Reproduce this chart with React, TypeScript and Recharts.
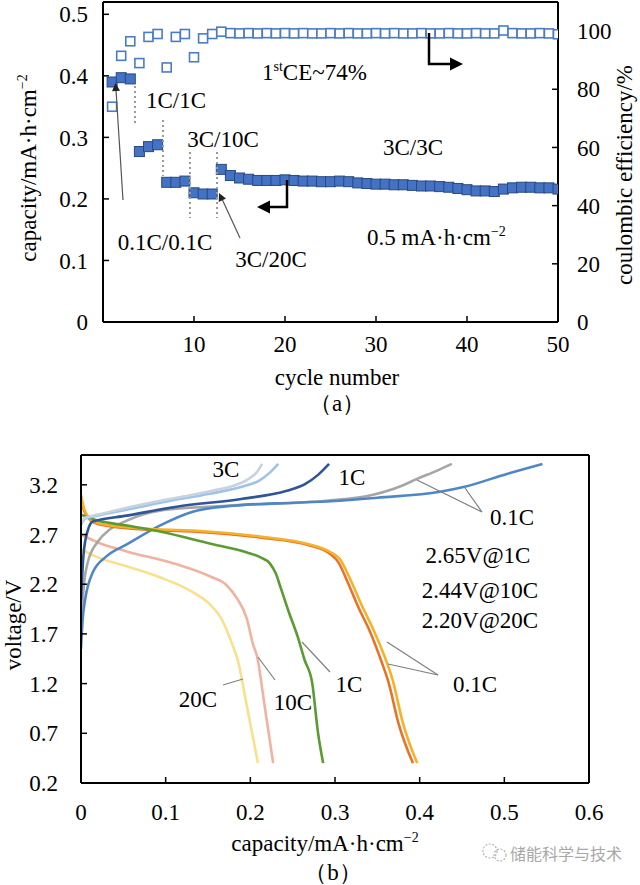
import React from 'react';
import { ComposedChart, LineChart, Line, XAxis, YAxis } from 'recharts';

// ---------- Panel (a) data ----------
const cycles = Array.from({ length: 50 }, (_, i) => i + 1);
const capacity = [
  0.39, 0.397, 0.395, 0.277, 0.285, 0.288, 0.227, 0.227, 0.229, 0.21,
  0.208, 0.208, 0.248, 0.238, 0.234, 0.232, 0.23, 0.23, 0.23, 0.231,
  0.23, 0.229, 0.229, 0.228, 0.228, 0.229, 0.228, 0.226, 0.225, 0.224,
  0.224, 0.223, 0.223, 0.222, 0.221, 0.221, 0.22, 0.219, 0.217, 0.215,
  0.213, 0.213, 0.212, 0.216, 0.218, 0.219, 0.219, 0.218, 0.218, 0.216,
];
const coulombicEfficiency = [
  74, 91.5, 96.5, 89, 98, 99, 87.5, 98, 99, 91,
  97.5, 99, 99.8, 99.3, 99.2, 99.3, 99.2, 99.3, 99.2, 99.3,
  99.2, 99.3, 99.2, 99.2, 99.3, 99.2, 99.3, 99.2, 99.2, 99.3,
  99.2, 99.3, 99.2, 99.2, 99.3, 99.2, 99.2, 99.3, 99.2, 99.2,
  99.3, 99.2, 99.2, 100.2, 99.3, 99.2, 99.2, 99.3, 99.2, 98.9,
];
const capTicks = [0, 0.1, 0.2, 0.3, 0.4, 0.5];
const ceTicks = [0, 20, 40, 60, 80, 100];
const cycleTicks = [10, 20, 30, 40, 50];

// ---------- Panel (b) data: [capacity, voltage] ----------
const charge3CA: [number, number][] = [
  [0, 2.82], [0.005, 2.87], [0.02, 2.9], [0.054, 2.97], [0.1, 3.05], [0.132, 3.1],
  [0.16, 3.15], [0.18, 3.19], [0.198, 3.26], [0.208, 3.33], [0.214, 3.41],
];
const charge3CB: [number, number][] = [
  [0, 2.8], [0.005, 2.86], [0.02, 2.89], [0.054, 2.95], [0.1, 3.03], [0.152, 3.11],
  [0.19, 3.18], [0.21, 3.24], [0.224, 3.33], [0.233, 3.41],
];
const charge1C: [number, number][] = [
  [0, 2.05], [0.003, 2.5], [0.008, 2.74], [0.014, 2.83], [0.054, 2.89], [0.113, 2.98],
  [0.191, 3.06], [0.243, 3.14], [0.265, 3.21], [0.28, 3.3], [0.293, 3.41],
];
const charge01CGray: [number, number][] = [
  [0, 1.7], [0.003, 2.15], [0.008, 2.42], [0.02, 2.63], [0.034, 2.75], [0.054, 2.84],
  [0.093, 2.94], [0.172, 2.99], [0.29, 3.04], [0.345, 3.1], [0.376, 3.18],
  [0.397, 3.26], [0.42, 3.34], [0.438, 3.41],
];
const charge01CBlue: [number, number][] = [
  [0, 1.55], [0.002, 1.85], [0.005, 2.05], [0.014, 2.32], [0.03, 2.48], [0.054, 2.6],
  [0.093, 2.79], [0.132, 2.93], [0.18, 2.99], [0.25, 3.02], [0.306, 3.04],
  [0.35, 3.07], [0.424, 3.13], [0.453, 3.18], [0.503, 3.31], [0.545, 3.41],
];
const discharge01CA: [number, number][] = [
  [0, 3.1], [0.004, 2.95], [0.012, 2.85], [0.022, 2.81], [0.073, 2.76], [0.132, 2.74],
  [0.211, 2.68], [0.27, 2.6], [0.295, 2.52], [0.306, 2.45], [0.318, 2.25],
  [0.332, 1.98], [0.345, 1.75], [0.36, 1.44], [0.368, 1.24], [0.38, 0.81], [0.397, 0.4],
];
const discharge01CB: [number, number][] = [
  [0, 3.05], [0.004, 2.93], [0.012, 2.84], [0.022, 2.8], [0.073, 2.75], [0.132, 2.73],
  [0.211, 2.67], [0.27, 2.59], [0.295, 2.5], [0.304, 2.42], [0.315, 2.22],
  [0.328, 1.96], [0.341, 1.73], [0.355, 1.42], [0.363, 1.22], [0.375, 0.8], [0.392, 0.4],
];
const discharge1C: [number, number][] = [
  [0, 2.9], [0.02, 2.84], [0.054, 2.79], [0.093, 2.73], [0.152, 2.61], [0.196, 2.52],
  [0.212, 2.47], [0.223, 2.41], [0.23, 2.31], [0.236, 2.16], [0.245, 1.93],
  [0.256, 1.67], [0.264, 1.44], [0.273, 1.21], [0.28, 0.7], [0.286, 0.4],
];
const discharge10C: [number, number][] = [
  [0, 2.7], [0.02, 2.62], [0.054, 2.53], [0.113, 2.4], [0.152, 2.28], [0.172, 2.19],
  [0.184, 2.06], [0.196, 1.85], [0.203, 1.6], [0.208, 1.47], [0.217, 0.97], [0.227, 0.4],
];
const discharge20C: [number, number][] = [
  [0, 2.55], [0.02, 2.47], [0.054, 2.38], [0.093, 2.27], [0.132, 2.12], [0.152, 2.0],
  [0.166, 1.85], [0.178, 1.61], [0.185, 1.44], [0.196, 0.97], [0.209, 0.4],
];
const voltTicks = [0.2, 0.7, 1.2, 1.7, 2.2, 2.7, 3.2];
const capBTicks = [0, 0.1, 0.2, 0.3, 0.4, 0.5, 0.6];

const FONT = "'Liberation Serif', 'Times New Roman', serif";
const FS = 23;

const toPts = (arr: [number, number][]) => arr.map(([x, y]) => ({ x, y }));

const curves = [
  { key: 'd20', pts: discharge20C, color: '#F9E08C' },
  { key: 'd10', pts: discharge10C, color: '#EFB3A0' },
  { key: 'c01g', pts: charge01CGray, color: '#A6A6A6' },
  { key: 'c01b', pts: charge01CBlue, color: '#4F87C6' },
  { key: 'd01b', pts: discharge01CB, color: '#E4732E' },
  { key: 'd01a', pts: discharge01CA, color: '#F6B12A' },
  { key: 'd1', pts: discharge1C, color: '#5A9C32' },
  { key: 'c1', pts: charge1C, color: '#2F5597' },
  { key: 'c3b', pts: charge3CB, color: '#9DC3E6' },
  { key: 'c3a', pts: charge3CA, color: '#C9D3DF' },
];

const FilledSquare = (p: any) => {
  if (p.cx == null || p.cy == null) return <g key={`fs${p.index}`} />;
  return (
    <rect key={`fs${p.index}`} x={p.cx - 5} y={p.cy - 5} width={10} height={10}
      fill="#4472C4" stroke="#2A4A7E" strokeWidth={1} />
  );
};
const HollowSquare = (p: any) => {
  if (p.cx == null || p.cy == null) return <g key={`hs${p.index}`} />;
  return (
    <rect key={`hs${p.index}`} x={p.cx - 4.5} y={p.cy - 4.5} width={9} height={9}
      fill="#fff" stroke="#4A7CC6" strokeWidth={1.6} />
  );
};

const tickStyle = { fill: '#000', fontSize: FS, fontFamily: FONT };
const axisLineStyle = { stroke: '#000', strokeWidth: 2 };
const tickLineStyle = { stroke: '#000', strokeWidth: 1.5 };

const fmt1 = (v: number) => (v === 0 ? '0' : v.toFixed(1));

const T = (props: any) => (
  <text fontFamily={FONT} fontSize={FS} fill="#000" {...props} />
);

const Arrowhead = ({ x, y, dir, size = 9, color = '#000' }: any) => {
  const a = dir;
  const bx = x - size * Math.cos(a);
  const by = y - size * Math.sin(a);
  const px = -Math.sin(a) * size * 0.5;
  const py = Math.cos(a) * size * 0.5;
  return <polygon points={`${x},${y} ${bx + px},${by + py} ${bx - px},${by - py}`} fill={color} />;
};

export default function App() {
  const dataA = cycles.map((c, i) => ({ cycle: c, cap: capacity[i], ce: coulombicEfficiency[i] }));

  return (
    <div style={{ position: 'absolute', left: 0, top: 0, width: 640, height: 885, background: '#fff', overflow: 'hidden' }}>
      <div style={{ position: 'absolute', left: 0, top: 0 }}>
        <ComposedChart width={640} height={425} data={dataA} margin={{ top: 2, right: 0, bottom: 0, left: 0 }}>
          <XAxis type="number" dataKey="cycle" domain={[0, 50]} ticks={cycleTicks} allowDataOverflow
            height={103} tick={tickStyle} axisLine={axisLineStyle} tickLine={tickLineStyle}
            tickSize={-6} tickMargin={20} interval={0} />
          <YAxis yAxisId="cap" domain={[0, 0.52]} ticks={capTicks} allowDataOverflow width={103}
            tick={tickStyle} axisLine={axisLineStyle} tickLine={tickLineStyle} tickSize={-6}
            tickMargin={21} tickFormatter={fmt1} interval={0} />
          <YAxis yAxisId="ce" orientation="right" domain={[0, 110]} ticks={ceTicks} allowDataOverflow width={82}
            tick={{ ...tickStyle, textAnchor: 'start' }} axisLine={axisLineStyle} tickLine={tickLineStyle} tickSize={-6}
            tickMargin={25} interval={0} />
          <Line yAxisId="ce" dataKey="ce" stroke="none" dot={HollowSquare} activeDot={false} isAnimationActive={false} />
          <Line yAxisId="cap" dataKey="cap" stroke="none" dot={FilledSquare} activeDot={false} isAnimationActive={false} />
        </ComposedChart>
      </div>

      <div style={{ position: 'absolute', left: 0, top: 430 }}>
        <LineChart width={640} height={455} margin={{ top: 25, right: 51, bottom: 0, left: 0 }}>
          <XAxis type="number" dataKey="x" domain={[0, 0.6]} ticks={capBTicks} allowDataOverflow
            height={102} tick={tickStyle} axisLine={axisLineStyle} tickLine={tickLineStyle}
            tickSize={-6} tickMargin={27} tickFormatter={fmt1} interval={0} />
          <YAxis type="number" domain={[0.2, 3.5]} ticks={voltTicks} allowDataOverflow width={81}
            tick={tickStyle} axisLine={axisLineStyle} tickLine={tickLineStyle} tickSize={-6}
            tickMargin={29} tickFormatter={(v: number) => v.toFixed(1)} interval={0} />
          {curves.map((c) => (
            <Line key={c.key} data={toPts(c.pts)} dataKey="y" type="monotone" stroke={c.color}
              strokeWidth={2.6} dot={false} activeDot={false} isAnimationActive={false} />
          ))}
        </LineChart>
      </div>

      <svg width={640} height={885} style={{ position: 'absolute', left: 0, top: 0, pointerEvents: 'none' }}>
        {/* ---- Panel (a) frame ---- */}
        <line x1={103} y1={2} x2={558} y2={2} stroke="#000" strokeWidth={2} />

        <g stroke="#9A9A9A" strokeWidth={2} strokeDasharray="2 3">
          <line x1={135} y1={86} x2={135} y2={125} />
          <line x1={163} y1={120} x2={163} y2={176} />
          <line x1={190} y1={152} x2={190} y2={218} />
          <line x1={217} y1={152} x2={217} y2={218} />
        </g>

        <g stroke="#000" strokeWidth={2.5} fill="none">
          <polyline points="429,33 429,64 452,64" />
          <polyline points="287,180 287,207 268,207" />
        </g>
        <Arrowhead x={463} y={64} dir={0} size={13} />
        <Arrowhead x={257} y={207} dir={Math.PI} size={13} />

        <g stroke="#555" strokeWidth={1.2}>
          <line x1={123} y1={200} x2={116} y2={90} />
          <line x1={240} y1={238} x2={222} y2={199} />
        </g>
        <Arrowhead x={115.5} y={83} dir={Math.atan2(83 - 200, 115.5 - 123)} size={8} color="#222" />
        <Arrowhead x={219} y={193} dir={Math.atan2(193 - 238, 219 - 240)} size={8} color="#222" />

        <T x={262} y={80}>1<tspan fontSize={14} dy={-9}>st</tspan><tspan dy={9}>CE~74%</tspan></T>
        <T x={176} y={108} textAnchor="middle">1C/1C</T>
        <T x={223} y={147} textAnchor="middle">3C/10C</T>
        <T x={165} y={250} textAnchor="middle">0.1C/0.1C</T>
        <T x={271} y={267} textAnchor="middle">3C/20C</T>
        <T x={413} y={155} textAnchor="middle">3C/3C</T>
        <T x={367} y={245}>0.5 mA·h·cm<tspan fontSize={14} dy={-9}>−2</tspan></T>

        <T x={36} y={168} textAnchor="middle" transform="rotate(-90 36 168)">
          capacity/mA·h·cm<tspan fontSize={14} dy={-9}>−2</tspan>
        </T>
        <T x={632} y={175} textAnchor="middle" transform="rotate(-90 632 175)">coulombic efficiency/%</T>
        <T x={337} y={385} textAnchor="middle">cycle number</T>
        <T x={337} y={411} textAnchor="middle">（a）</T>

        {/* ---- Panel (b) frame ---- */}
        <line x1={81} y1={455} x2={589} y2={455} stroke="#000" strokeWidth={2} />
        <line x1={589} y1={455} x2={589} y2={783} stroke="#000" strokeWidth={2} />

        <g stroke="#7F7F7F" strokeWidth={1.2}>
          <line x1={482} y1={512} x2={417} y2={480} />
          <line x1={482} y1={512} x2={465} y2={488} />
          <line x1={438} y1={675} x2={387} y2={642} />
          <line x1={438} y1={675} x2={388} y2={664} />
          <line x1={330} y1={672} x2={302} y2={642} />
          <line x1={275} y1={680} x2={258} y2={657} />
          <line x1={223} y1={685} x2={243} y2={679} />
        </g>

        <T x={226} y={477} textAnchor="middle">3C</T>
        <T x={352} y={485} textAnchor="middle">1C</T>
        <T x={512} y={525} textAnchor="middle">0.1C</T>
        <T x={478} y={563} textAnchor="middle">2.65V@1C</T>
        <T x={480} y={598} textAnchor="middle">2.44V@10C</T>
        <T x={480} y={628} textAnchor="middle">2.20V@20C</T>
        <T x={475} y={692} textAnchor="middle">0.1C</T>
        <T x={349} y={692} textAnchor="middle">1C</T>
        <T x={293} y={710} textAnchor="middle">10C</T>
        <T x={198} y={707} textAnchor="middle">20C</T>

        <T x={21} y={625} textAnchor="middle" transform="rotate(-90 21 625)">voltage/V</T>
        <T x={325} y={851} textAnchor="middle">
          capacity/mA·h·cm<tspan fontSize={14} dy={-9}>−2</tspan>
        </T>
        <T x={333} y={880} textAnchor="middle">（b）</T>

        <g stroke="#B5B5B5" strokeWidth={1.2} fill="none" strokeDasharray="2 1.5">
          <circle cx={490} cy={851} r={7} />
          <circle cx={500} cy={855} r={6} />
        </g>
        <text x={510} y={860} fontFamily="'Noto Sans CJK SC', sans-serif" fontSize={16} fill="#A8A8A8">储能科学与技术</text>
      </svg>
    </div>
  );
}
